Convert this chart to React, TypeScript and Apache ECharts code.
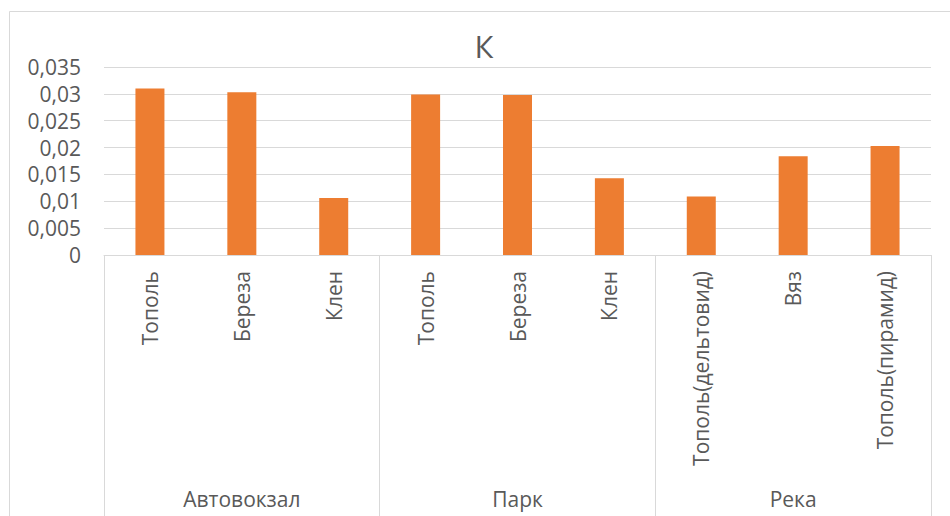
import React, { useEffect, useRef } from "react";
import * as echarts from "echarts";

const categories = [
  "Тополь", "Береза", "Клен",
  "Тополь", "Береза", "Клен",
  "Тополь(дельтовид)", "Вяз", "Тополь(пирамид)",
];
const groups = ["Автовокзал", "Парк", "Река"];
const values = [0.031, 0.0303, 0.0106, 0.0299, 0.0298, 0.0143, 0.0109, 0.0184, 0.0203];
const yTicks = { min: 0, max: 0.035, interval: 0.005 };
const titleText = "К";

const FONT = "'Open Sans', sans-serif";
const GRAY = "#595959";
const LINE = "#d9d9d9";
const FS = 21;

export default function App() {
  const ref = useRef<HTMLDivElement>(null);
  useEffect(() => {
    if (!ref.current) return;
    const chart = echarts.init(ref.current, undefined, { renderer: "svg" });
    chart.setOption({
      animation: false,
      backgroundColor: "#ffffff",
      textStyle: { fontFamily: FONT },
      graphic: [
        {
          type: "rect",
          shape: { x: 9.5, y: 11.5, width: 1000, height: 700 },
          style: { fill: "none", stroke: LINE, lineWidth: 1 },
          silent: true,
        },
        {
          type: "text",
          x: 484,
          y: 46,
          style: {
            text: titleText,
            fill: GRAY,
            font: `31px ${FONT}`,
            textAlign: "center",
            textVerticalAlign: "middle",
          },
        },
      ],
      grid: { left: 104, right: 19, top: 67, bottom: 261, containLabel: false },
      xAxis: [
        {
          type: "category",
          data: categories,
          position: "bottom",
          axisLine: { show: true, lineStyle: { color: LINE, width: 1 } },
          axisTick: { show: false },
          axisLabel: {
            rotate: 90,
            interval: 0,
            margin: 16,
            color: GRAY,
            fontSize: FS,
            fontFamily: FONT,
          },
        },
        {
          type: "category",
          data: groups,
          position: "bottom",
          axisLine: { show: false },
          axisTick: { show: true, length: 265, lineStyle: { color: LINE, width: 1 } },
          axisLabel: {
            interval: 0,
            margin: 233,
            color: GRAY,
            fontSize: FS,
            fontFamily: FONT,
          },
        },
      ],
      yAxis: {
        type: "value",
        min: yTicks.min,
        max: yTicks.max,
        interval: yTicks.interval,
        axisLine: { show: false },
        axisTick: { show: false },
        splitLine: { show: true, lineStyle: { color: LINE, width: 1 } },
        axisLabel: {
          margin: 23,
          color: GRAY,
          fontSize: FS,
          fontFamily: FONT,
          formatter: (v: number) => String(+v.toFixed(3)).replace(".", ","),
        },
      },
      series: [
        {
          type: "bar",
          xAxisIndex: 0,
          data: values,
          barWidth: 29,
          itemStyle: { color: "#ED7D31" },
        },
      ],
    });
    return () => chart.dispose();
  }, []);
  return (
    <div
      ref={ref}
      style={{ position: "fixed", left: 0, top: 0, width: 950, height: 516 }}
    />
  );
}
